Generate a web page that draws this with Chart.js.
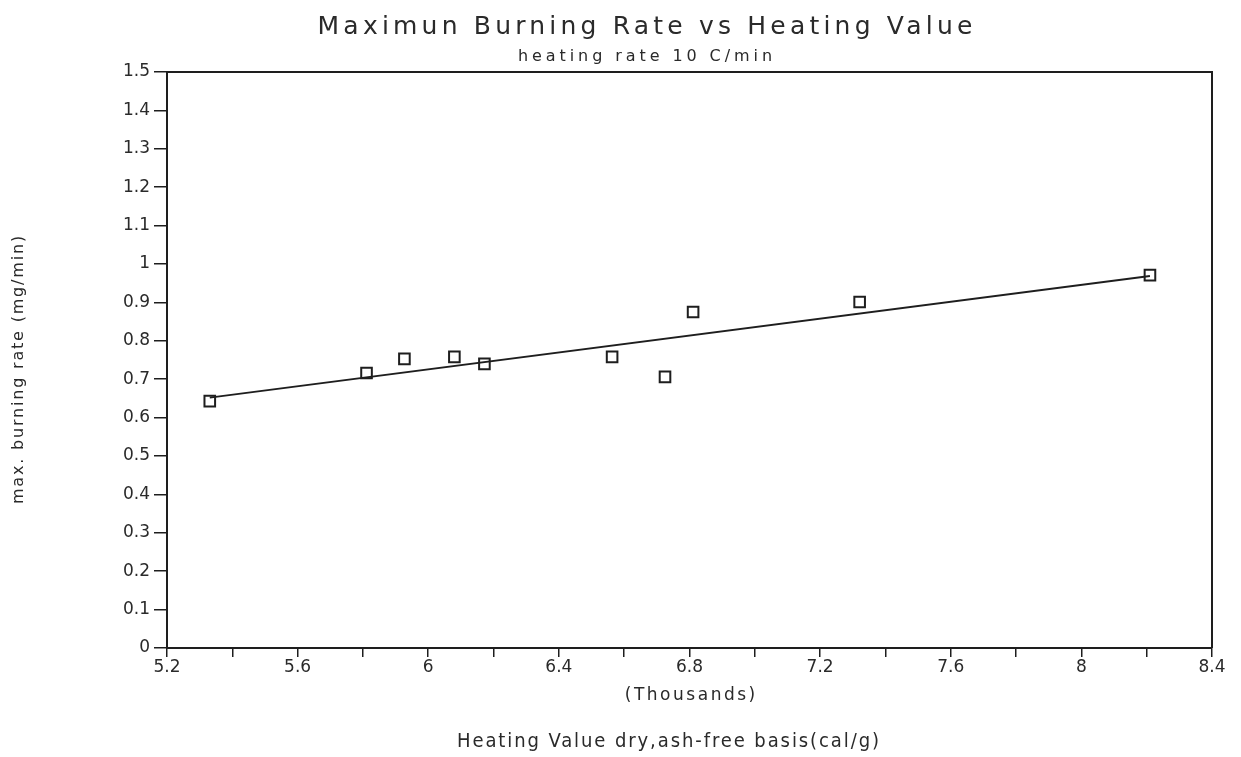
<!DOCTYPE html>
<html>
<head>
<meta charset="utf-8">
<script src="https://cdn.jsdelivr.net/npm/chart.js@4/dist/chart.umd.min.js"></script>
<style>
  html, body { margin: 0; padding: 0; background: #ffffff; }
  canvas { display: block; }
</style>
</head>
<body>
<canvas id="chart" width="1241" height="757"></canvas>
<script>
// Measured samples: heating value (thousands cal/g) vs max. burning rate (mg/min)
const heatingValue = [5.331, 5.811, 5.927, 6.080, 6.172, 6.563, 6.725, 6.811, 7.321, 8.210];
const burningRate  = [0.643, 0.716, 0.753, 0.758, 0.740, 0.758, 0.706, 0.875, 0.901, 0.971];

// Straight-line fit drawn through the samples (end points)
const fitHeatingValue = [5.331, 8.210];
const fitBurningRate  = [0.652, 0.969];

// Axis tick labels
const xTickLabels = ['5.2', '5.6', '6', '6.4', '6.8', '7.2', '7.6', '8', '8.4'];
const yTickLabels = ['0', '0.1', '0.2', '0.3', '0.4', '0.5', '0.6', '0.7', '0.8', '0.9',
                     '1', '1.1', '1.2', '1.3', '1.4', '1.5'];

// Text
const titleText    = 'Maximun Burning Rate vs Heating Value';
const subtitleText = 'heating rate 10 C/min';
const unitText     = '(Thousands)';
const xTitleText   = 'Heating Value dry,ash-free basis(cal/g)';
const yTitleText   = 'max. burning rate (mg/min)';

const INK = '#1e1e1e';
const FONT = '"DejaVu Sans", "Noto Sans", sans-serif';

const labelFor = (list, value) =>
  list.find(l => Math.abs(parseFloat(l) - value) < 1e-6) ?? '';

// Draws a line of text stretched to a given width with letter spacing
function fitText(ctx, text, cx, cy, width, font) {
  ctx.save();
  ctx.font = font;
  ctx.letterSpacing = '0px';
  const w = ctx.measureText(text).width;
  const n = text.length;
  const spacing = Math.max(-1, (width - w) / n);
  ctx.letterSpacing = spacing.toFixed(2) + 'px';
  ctx.textAlign = 'left';
  ctx.textBaseline = 'middle';
  ctx.fillText(text, cx - (w + spacing * n) / 2 + spacing / 2, cy);
  ctx.restore();
}

const annotations = {
  id: 'annotations',
  afterDraw(chart) {
    const { ctx, chartArea: a } = chart;
    ctx.save();
    // closing frame: top and right edges
    ctx.strokeStyle = INK;
    ctx.lineWidth = 2;
    ctx.beginPath();
    ctx.moveTo(a.left, a.top);
    ctx.lineTo(a.right, a.top);
    ctx.lineTo(a.right, a.bottom);
    ctx.stroke();

    ctx.fillStyle = '#2a2a2a';
    fitText(ctx, titleText, 645, 27, 659, '25px ' + FONT);
    fitText(ctx, subtitleText, 645, 57, 258, '16px ' + FONT);
    fitText(ctx, unitText, 690, 696, 133, '17px ' + FONT);
    fitText(ctx, xTitleText, 668, 742, 424, '20px "Liberation Sans Narrow", "DejaVu Sans Condensed", sans-serif');

    ctx.translate(19, 370);
    ctx.rotate(-Math.PI / 2);
    fitText(ctx, yTitleText, 0, 0, 270, '16px ' + FONT);
    ctx.restore();
  }
};

new Chart(document.getElementById('chart'), {
  type: 'scatter',
  data: {
    datasets: [
      {
        label: 'samples',
        data: heatingValue.map((x, i) => ({ x, y: burningRate[i] })),
        pointStyle: 'rect',
        pointRadius: 7.5,
        pointBorderWidth: 2,
        pointBorderColor: INK,
        pointBackgroundColor: 'rgba(255,255,255,0)',
        showLine: false,
        order: 1
      },
      {
        label: 'fit',
        type: 'line',
        data: fitHeatingValue.map((x, i) => ({ x, y: fitBurningRate[i] })),
        borderColor: INK,
        borderWidth: 2,
        pointRadius: 0,
        fill: false,
        tension: 0,
        order: 2
      }
    ]
  },
  options: {
    responsive: false,
    animation: false,
    devicePixelRatio: 1,
    layout: { padding: { top: 72, right: 29, left: 0, bottom: 0 } },
    plugins: {
      legend: { display: false },
      tooltip: { enabled: false },
      title: { display: false }
    },
    scales: {
      x: {
        type: 'linear',
        position: 'bottom',
        min: 5.2,
        max: 8.4,
        border: { display: true, color: INK, width: 2 },
        grid: { drawOnChartArea: false, drawTicks: true, tickLength: 9, color: INK, lineWidth: 1.5 },
        ticks: {
          stepSize: 0.2,
          autoSkip: false,
          maxRotation: 0,
          padding: 0,
          color: '#2a2a2a',
          font: { family: FONT, size: 17 },
          callback: v => labelFor(xTickLabels, v)
        },
        afterFit(scale) { scale.height = 109; }
      },
      y: {
        type: 'linear',
        min: 0,
        max: 1.5,
        border: { display: true, color: INK, width: 2 },
        grid: { drawOnChartArea: false, drawTicks: true, tickLength: 13, color: INK, lineWidth: 1.5 },
        ticks: {
          stepSize: 0.1,
          autoSkip: false,
          padding: 4,
          color: '#2a2a2a',
          font: { family: FONT, size: 17 },
          callback: v => labelFor(yTickLabels, v)
        },
        afterFit(scale) { scale.width = 167; }
      }
    }
  },
  plugins: [annotations]
});
</script>
</body>
</html>
